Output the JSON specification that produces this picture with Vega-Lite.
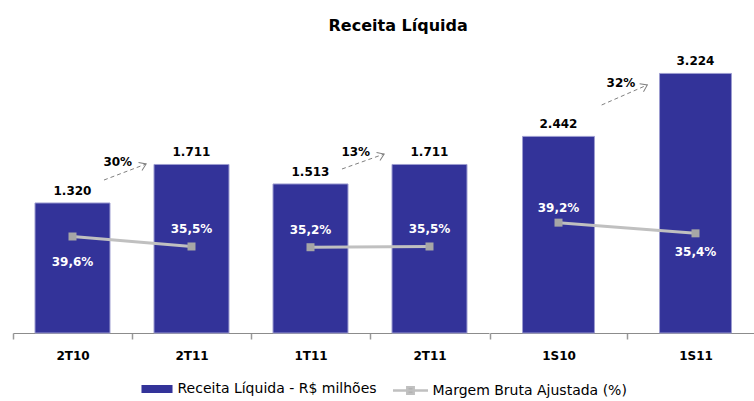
{
  "$schema": "https://vega.github.io/schema/vega-lite/v6.json",
  "padding": {"left": 12, "top": 18, "right": 0, "bottom": 0},
  "title": {"text": "Receita Líquida", "font": "DejaVu Sans", "fontSize": 16, "fontWeight": "bold", "color": "#000000", "anchor": "middle", "dx": 10, "offset": 9},
  "datasets": {
    "main": [
      {"panel": "T", "k": "2T10", "receita": 1320, "margem": 0.396, "par": "a"},
      {"panel": "T", "k": "2T11", "receita": 1711, "margem": 0.355, "par": "a"},
      {"panel": "T", "k": "1T11", "receita": 1513, "margem": 0.352, "par": "b"},
      {"panel": "T", "k": "2T11b", "receita": 1711, "margem": 0.355, "par": "b"},
      {"panel": "S", "k": "1S10", "receita": 2442, "margem": 0.392, "par": "c"},
      {"panel": "S", "k": "1S11", "receita": 3224, "margem": 0.354, "par": "c"}
    ],
    "growth": [
      {"panel": "T", "from": "2T10", "to": "2T11", "y1": 1553, "y2": 1716, "g": "30%"},
      {"panel": "T", "from": "1T11", "to": "2T11b", "y1": 1665, "y2": 1817, "g": "13%"},
      {"panel": "S", "from": "1S10", "to": "1S11", "y1": 2832, "y2": 3081, "g": "32%"}
    ]
  },
  "spacing": 0,
  "hconcat": [
    {
      "width": 476,
      "height": 290,
      "layer": [
        {
          "layer": [
            {
              "data": {"name": "main"},
              "transform": [{"filter": "datum.panel == 'T'"}],
              "mark": {"type": "bar", "stroke": "#9c9cd0", "strokeWidth": 1},
              "encoding": {
                "x": {"field": "k", "type": "ordinal", "sort": null, "scale": {"domain": ["2T10", "2T11", "1T11", "2T11b"], "paddingInner": 0.37, "paddingOuter": 0.185}, "axis": {"labelExpr": "datum.value == '2T11b' ? '2T11' : datum.value", "ticks": true, "tickSize": 6, "tickColor": "#999999", "tickWidth": 1.5, "tickOffset": -59.5, "labelOffset": 59.5}},
                "y": {"field": "receita", "type": "quantitative", "scale": {"domain": [0, 2944], "nice": false}, "axis": null},
                "fill": {"datum": "Receita Líquida - R$ milhões", "type": "nominal", "scale": {"range": ["#333399"]}, "legend": {"symbolType": "M-1.94,-0.5H1.94V0.5H-1.94Z", "symbolSize": 256, "symbolStrokeWidth": 0, "labelLimit": 0}}
              }
            },
            {
              "data": {"name": "main"},
              "transform": [{"filter": "datum.panel == 'T'"}],
              "mark": {"type": "text", "font": "DejaVu Sans", "fontSize": 12, "fontWeight": "bold", "color": "#000000", "dy": -12, "baseline": "middle"},
              "encoding": {
                "x": {"field": "k", "type": "ordinal"},
                "y": {"field": "receita", "type": "quantitative"},
                "text": {"field": "receita", "type": "quantitative", "format": ",d"}
              }
            },
            {
              "data": {"name": "growth"},
              "transform": [{"filter": "datum.panel == 'T'"}],
              "mark": {"type": "rule", "color": "#808080", "strokeWidth": 1, "strokeDash": [4, 3]},
              "encoding": {
                "x": {"field": "from", "type": "ordinal", "bandPosition": 0.92},
                "x2": {"field": "to", "bandPosition": -0.105},
                "y": {"field": "y1", "type": "quantitative"},
                "y2": {"field": "y2"}
              }
            },
            {
              "data": {"name": "growth"},
              "transform": [{"filter": "datum.panel == 'T'"}],
              "mark": {"type": "point", "shape": "M-1.6,-1.1L0,0L-1.6,1.1", "filled": false, "color": "#808080", "strokeWidth": 1, "size": 64, "angle": 337, "opacity": 1},
              "encoding": {
                "x": {"field": "to", "type": "ordinal", "bandPosition": -0.105},
                "y": {"field": "y2", "type": "quantitative"}
              }
            },
            {
              "data": {"name": "growth"},
              "transform": [{"filter": "datum.panel == 'T'"}],
              "mark": {"type": "text", "font": "DejaVu Sans", "fontSize": 12, "fontWeight": "bold", "color": "#000000", "align": "right", "baseline": "middle", "dx": -14, "dy": -2},
              "encoding": {
                "x": {"field": "to", "type": "ordinal", "bandPosition": -0.105},
                "y": {"field": "y2", "type": "quantitative"},
                "text": {"field": "g", "type": "nominal"}
              }
            }
          ]
        },
        {
          "layer": [
            {
              "data": {"name": "main"},
              "transform": [{"filter": "datum.panel == 'T'"}],
              "mark": {"type": "line", "strokeWidth": 3},
              "encoding": {
                "x": {"field": "k", "type": "ordinal"},
                "y": {"field": "margem", "type": "quantitative", "scale": {"domain": [0, 1.19], "nice": false}, "axis": null},
                "detail": {"field": "par", "type": "nominal"},
                "stroke": {"datum": "Margem Bruta Ajustada (%)", "type": "nominal", "scale": {"range": ["#c0c0c0"]}, "legend": {"symbolType": "M-2.19,0H2.19M-0.4,-0.4H0.4V0.4H-0.4Z", "symbolSize": 256, "symbolStrokeWidth": 2.5, "symbolFillColor": "#a6a6a6", "labelLimit": 0}}
              }
            },
            {
              "data": {"name": "main"},
              "transform": [{"filter": "datum.panel == 'T'"}],
              "mark": {"type": "point", "shape": "square", "filled": true, "color": "#a6a6a6", "size": 64, "opacity": 1},
              "encoding": {
                "x": {"field": "k", "type": "ordinal"},
                "y": {"field": "margem", "type": "quantitative"}
              }
            },
            {
              "data": {"name": "main"},
              "transform": [{"filter": "datum.panel == 'T' && datum.k != '2T10'"}],
              "mark": {"type": "text", "font": "DejaVu Sans", "fontSize": 12, "fontWeight": "bold", "color": "#ffffff", "dy": -17, "baseline": "middle"},
              "encoding": {
                "x": {"field": "k", "type": "ordinal"},
                "y": {"field": "margem", "type": "quantitative"},
                "text": {"field": "margem", "type": "quantitative", "format": ".1%"}
              }
            },
            {
              "data": {"name": "main"},
              "transform": [{"filter": "datum.k == '2T10'"}],
              "mark": {"type": "text", "font": "DejaVu Sans", "fontSize": 12, "fontWeight": "bold", "color": "#ffffff", "dy": 26, "baseline": "middle"},
              "encoding": {
                "x": {"field": "k", "type": "ordinal"},
                "y": {"field": "margem", "type": "quantitative"},
                "text": {"field": "margem", "type": "quantitative", "format": ".1%"}
              }
            }
          ]
        }
      ],
      "resolve": {"scale": {"y": "independent"}}
    },
    {
      "width": 274,
      "height": 290,
      "layer": [
        {
          "layer": [
            {
              "data": {"name": "main"},
              "transform": [{"filter": "datum.panel == 'S'"}],
              "mark": {"type": "bar", "stroke": "#9c9cd0", "strokeWidth": 1},
              "encoding": {
                "x": {"field": "k", "type": "ordinal", "sort": null, "scale": {"domain": ["1S10", "1S11"], "paddingInner": 0.475, "paddingOuter": 0.2375}, "axis": {"ticks": true, "tickSize": 6, "tickColor": "#999999", "tickWidth": 1.5, "tickOffset": -68.5, "labelOffset": 68.5}},
                "y": {"field": "receita", "type": "quantitative", "scale": {"domain": [0, 3602], "nice": false}, "axis": null},
                "fill": {"datum": "Receita Líquida - R$ milhões", "type": "nominal"}
              }
            },
            {
              "data": {"name": "main"},
              "transform": [{"filter": "datum.panel == 'S'"}],
              "mark": {"type": "text", "font": "DejaVu Sans", "fontSize": 12, "fontWeight": "bold", "color": "#000000", "dy": -12, "baseline": "middle"},
              "encoding": {
                "x": {"field": "k", "type": "ordinal"},
                "y": {"field": "receita", "type": "quantitative"},
                "text": {"field": "receita", "type": "quantitative", "format": ",d"}
              }
            },
            {
              "data": {"name": "growth"},
              "transform": [{"filter": "datum.panel == 'S'"}],
              "mark": {"type": "rule", "color": "#808080", "strokeWidth": 1, "strokeDash": [4, 3]},
              "encoding": {
                "x": {"field": "from", "type": "ordinal", "bandPosition": 1.1},
                "x2": {"field": "to", "bandPosition": -0.17},
                "y": {"field": "y1", "type": "quantitative"},
                "y2": {"field": "y2"}
              }
            },
            {
              "data": {"name": "growth"},
              "transform": [{"filter": "datum.panel == 'S'"}],
              "mark": {"type": "point", "shape": "M-1.6,-1.1L0,0L-1.6,1.1", "filled": false, "color": "#808080", "strokeWidth": 1, "size": 64, "angle": 334, "opacity": 1},
              "encoding": {
                "x": {"field": "to", "type": "ordinal", "bandPosition": -0.17},
                "y": {"field": "y2", "type": "quantitative"}
              }
            },
            {
              "data": {"name": "growth"},
              "transform": [{"filter": "datum.panel == 'S'"}],
              "mark": {"type": "text", "font": "DejaVu Sans", "fontSize": 12, "fontWeight": "bold", "color": "#000000", "align": "right", "baseline": "middle", "dx": -12, "dy": -2},
              "encoding": {
                "x": {"field": "to", "type": "ordinal", "bandPosition": -0.17},
                "y": {"field": "y2", "type": "quantitative"},
                "text": {"field": "g", "type": "nominal"}
              }
            }
          ]
        },
        {
          "layer": [
            {
              "data": {"name": "main"},
              "transform": [{"filter": "datum.panel == 'S'"}],
              "mark": {"type": "line", "strokeWidth": 3},
              "encoding": {
                "x": {"field": "k", "type": "ordinal"},
                "y": {"field": "margem", "type": "quantitative", "scale": {"domain": [0, 1.03], "nice": false}, "axis": null},
                "detail": {"field": "par", "type": "nominal"},
                "stroke": {"datum": "Margem Bruta Ajustada (%)", "type": "nominal"}
              }
            },
            {
              "data": {"name": "main"},
              "transform": [{"filter": "datum.panel == 'S'"}],
              "mark": {"type": "point", "shape": "square", "filled": true, "color": "#a6a6a6", "size": 64, "opacity": 1},
              "encoding": {
                "x": {"field": "k", "type": "ordinal"},
                "y": {"field": "margem", "type": "quantitative"}
              }
            },
            {
              "data": {"name": "main"},
              "transform": [{"filter": "datum.k == '1S10'"}],
              "mark": {"type": "text", "font": "DejaVu Sans", "fontSize": 12, "fontWeight": "bold", "color": "#ffffff", "dy": -15, "baseline": "middle"},
              "encoding": {
                "x": {"field": "k", "type": "ordinal"},
                "y": {"field": "margem", "type": "quantitative"},
                "text": {"field": "margem", "type": "quantitative", "format": ".1%"}
              }
            },
            {
              "data": {"name": "main"},
              "transform": [{"filter": "datum.k == '1S11'"}],
              "mark": {"type": "text", "font": "DejaVu Sans", "fontSize": 12, "fontWeight": "bold", "color": "#ffffff", "dy": 19, "baseline": "middle"},
              "encoding": {
                "x": {"field": "k", "type": "ordinal"},
                "y": {"field": "margem", "type": "quantitative"},
                "text": {"field": "margem", "type": "quantitative", "format": ".1%"}
              }
            }
          ]
        }
      ],
      "resolve": {"scale": {"y": "independent"}}
    }
  ],
  "config": {
    "view": {"stroke": null},
    "locale": {"number": {"decimal": ",", "thousands": ".", "grouping": [3], "currency": ["R$ ", ""]}},
    "axisX": {"title": null, "labelAngle": 0, "labelFont": "DejaVu Sans", "labelFontSize": 12, "labelFontWeight": "bold", "labelColor": "#000000", "domainColor": "#8c8c8c", "domainWidth": 1, "ticks": true, "tickColor": "#999999", "tickSize": 6, "tickWidth": 1.5, "labelPadding": 11, "grid": false},
    "legend": {
      "orient": "bottom",
      "direction": "horizontal",
      "title": null,
      "labelFont": "DejaVu Sans",
      "labelFontSize": 14,
      "labelColor": "#000000",
      "labelLimit": 0,
      "labelOffset": 12.5,
      "offset": 20,
      "layout": {"bottom": {"anchor": "middle", "direction": "horizontal", "margin": 24}}
    }
  },
  "encoding": {}
}
